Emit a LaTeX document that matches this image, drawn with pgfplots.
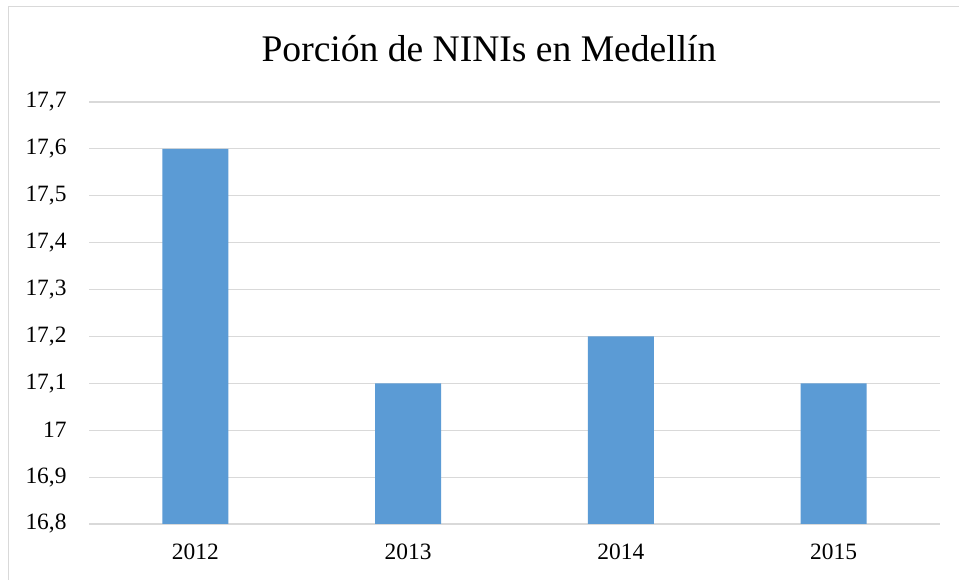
\documentclass[border=0pt]{standalone}
\usepackage{fontspec}
\setmainfont{Liberation Serif}
\usepackage{pgfplots}
\pgfplotsset{compat=1.18}
\definecolor{barblue}{HTML}{5B9BD5}
\definecolor{gridgray}{HTML}{D9D9D9}
\begin{document}
\begin{tikzpicture}[x=1bp,y=1bp]
\clip (0,0) rectangle (959,580);
\fill[white] (0,0) rectangle (959,580);
\draw[gridgray, line width=1.5bp] (8.5,-10) rectangle (975,573.5);
\node[anchor=base, font=\fontsize{37.7}{44}\selectfont] at (489,518) {Porción de NINIs en Medellín};
\begin{axis}[at={(89bp,56bp)}, anchor=south west, scale only axis,
  width=851bp, height=422bp,
  xmin=-0.5, xmax=3.5, ymin=16.8, ymax=17.7,
  ytick={16.8,16.9,17,17.1,17.2,17.3,17.4,17.5,17.6,17.7},
  xtick={0,1,2,3}, xticklabels={2012,2013,2014,2015},
  axis line style={draw=none}, tick style={draw=none},
  ymajorgrids, major grid style={gridgray, line width=1.2bp},
  ticklabel style={font=\fontsize{23.5}{28}\selectfont},
  /pgf/number format/assume math mode=true,
  /pgf/number format/use comma, /pgf/number format/fixed,
  yticklabel style={anchor=east, xshift=-19bp},
  xticklabel style={anchor=north, yshift=-12bp},
  ybar, bar width=66bp,
]
\addplot[fill=barblue, draw=none] coordinates {(0,17.6) (1,17.1) (2,17.2) (3,17.1)};
\end{axis}
\end{tikzpicture}
\end{document}
